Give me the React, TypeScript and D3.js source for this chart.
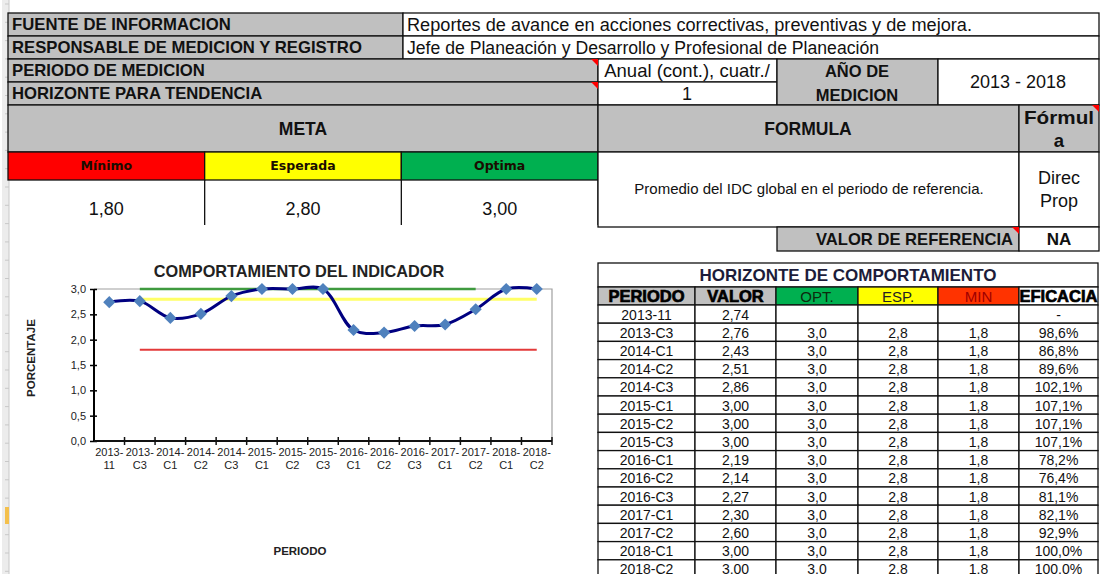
import * as d3 from 'd3';
import { useEffect, useRef } from 'react';

// periodos de medicion (cuatrimestres)
const periodos = [
  '2013-11', '2013-C3', '2014-C1', '2014-C2', '2014-C3', '2015-C1', '2015-C2', '2015-C3',
  '2016-C1', '2016-C2', '2016-C3', '2017-C1', '2017-C2', '2018-C1', '2018-C2',
];
const valores = [2.74, 2.76, 2.43, 2.51, 2.86, 3.0, 3.0, 3.0, 2.19, 2.14, 2.27, 2.3, 2.6, 3.0, 3.0];

// metas en la tabla
const optTabla = [null, 3.0, 3.0, 3.0, 3.0, 3.0, 3.0, 3.0, 3.0, 3.0, 3.0, 3.0, 3.0, 3.0, 3.0];
const espTabla = [null, 2.8, 2.8, 2.8, 2.8, 2.8, 2.8, 2.8, 2.8, 2.8, 2.8, 2.8, 2.8, 2.8, 2.8];
const minTabla = [null, 1.8, 1.8, 1.8, 1.8, 1.8, 1.8, 1.8, 1.8, 1.8, 1.8, 1.8, 1.8, 1.8, 1.8];
const eficacia = [null, 98.6, 86.8, 89.6, 102.1, 107.1, 107.1, 107.1, 78.2, 76.4, 81.1, 82.1, 92.9, 100.0, 100.0];

// lineas de meta en la grafica
const lineaOptima = [null, 3.0, 3.0, 3.0, 3.0, 3.0, 3.0, 3.0, 3.0, 3.0, 3.0, 3.0, 3.0, null, null];
const lineaEsperada = espTabla;
const lineaMinima = minTabla;

const yTicks = [0, 0.5, 1.0, 1.5, 2.0, 2.5, 3.0];

const metaNombres = ['Mínimo', 'Esperada', 'Optima'];
const metaValores = [1.8, 2.8, 3.0];

const FONT = "Arial, 'Liberation Sans', sans-serif";
const GRAY = '#c0c0c0';
const RED = '#ff0000';
const YELLOW = '#ffff00';
const GREEN = '#00b050';

const coma = (v: number | null, d: number) => (v == null ? '' : v.toFixed(d).replace('.', ','));

export default function App() {
  const ref = useRef<SVGSVGElement>(null);

  useEffect(() => {
    if (!ref.current) return;
    const svg = d3.select(ref.current);
    svg.selectAll('*').remove();

    // excel row header strip
    const strip = svg.append('g');
    strip.append('rect').attr('x', 2).attr('y', 0).attr('width', 7).attr('height', 574).attr('fill', '#ececec');
    strip.append('line').attr('x1', 9).attr('x2', 9).attr('y1', 0).attr('y2', 574).attr('stroke', '#c8c8c8');
    strip
      .selectAll('line.t')
      .data(d3.range(4, 574, 18.3))
      .join('line')
      .attr('x1', 5)
      .attr('x2', 9)
      .attr('y1', (d) => d)
      .attr('y2', (d) => d)
      .attr('stroke', '#c8c8c8');
    strip.append('rect').attr('x', 5).attr('y', 507).attr('width', 4).attr('height', 17).attr('fill', '#f4c04c');

    const cell = (x0: number, y0: number, x1: number, y1: number, fill: string) =>
      svg
        .append('rect')
        .attr('x', x0)
        .attr('y', y0)
        .attr('width', x1 - x0)
        .attr('height', y1 - y0)
        .attr('fill', fill)
        .attr('stroke', '#111')
        .attr('stroke-width', 1.3);

    const text = (
      t: string,
      x: number,
      y: number,
      opts: { size?: number; weight?: string | number; anchor?: string; color?: string; family?: string } = {},
    ) =>
      svg
        .append('text')
        .text(t)
        .attr('x', x)
        .attr('y', y)
        .attr('dy', '0.35em')
        .attr('font-family', opts.family ?? FONT)
        .attr('font-size', opts.size ?? 18)
        .attr('font-weight', opts.weight ?? 'normal')
        .attr('text-anchor', opts.anchor ?? 'start')
        .attr('fill', opts.color ?? '#111');

    const corner = (x: number, y: number) =>
      svg
        .append('path')
        .attr('d', `M${x - 7},${y}L${x},${y}L${x},${y + 7}Z`)
        .attr('fill', '#ff0000');

    // encabezado
    cell(8, 13, 403, 36, GRAY);
    cell(403, 13, 1099, 36, '#fff');
    cell(8, 36, 403, 59, GRAY);
    cell(403, 36, 1099, 59, '#fff');
    text('FUENTE DE INFORMACION', 12, 24.5, { weight: 'bold', size: 16.7 });
    text('Reportes de avance en acciones correctivas, preventivas y de mejora.', 407, 24.5, { size: 17.5 })
      .attr('textLength', 565)
      .attr('lengthAdjust', 'spacingAndGlyphs');
    text('RESPONSABLE DE MEDICION Y REGISTRO', 12, 47.5, { weight: 'bold', size: 16.7 });
    text('Jefe de Planeación y Desarrollo y Profesional de Planeación', 407, 47.5, { size: 17.5 })
      .attr('textLength', 472)
      .attr('lengthAdjust', 'spacingAndGlyphs');

    cell(8, 59, 598, 82, GRAY);
    cell(8, 82, 598, 105, GRAY);
    cell(598, 59, 777, 82, '#fff');
    cell(598, 82, 777, 105, '#fff');
    cell(777, 59, 938, 105, GRAY);
    cell(938, 59, 1099, 105, '#fff');
    text('PERIODO DE MEDICION', 12, 70.5, { weight: 'bold', size: 16.7 });
    text('HORIZONTE PARA TENDENCIA', 12, 93.5, { weight: 'bold', size: 16.7 });
    text('Anual (cont.), cuatr./', 687, 70.5, { anchor: 'middle', size: 18.5 });
    text('1', 687, 93.5, { anchor: 'middle' });
    text('AÑO DE', 857, 71, { anchor: 'middle', weight: 'bold', size: 16.5 });
    text('MEDICION', 857, 95, { anchor: 'middle', weight: 'bold', size: 16.5 });
    text('2013 - 2018', 1018, 82, { anchor: 'middle' });
    corner(598, 59);
    corner(598, 82);

    cell(8, 105, 598, 152, GRAY);
    cell(598, 105, 1019, 152, GRAY);
    cell(1019, 105, 1099, 152, GRAY);
    text('META', 303, 128.5, { anchor: 'middle', weight: 'bold', size: 17.5 });
    text('FORMULA', 808, 128.5, { anchor: 'middle', weight: 'bold', size: 17.5 });
    text('Fórmul', 1059, 118, { anchor: 'middle', weight: 'bold', size: 18.5 })
      .attr('textLength', 70)
      .attr('lengthAdjust', 'spacingAndGlyphs');
    text('a', 1059, 141, { anchor: 'middle', weight: 'bold', size: 18.5 });
    corner(1099, 105);

    // metas
    const metaX = d3.scaleBand<string>().domain(metaNombres).range([8, 598]);
    const metaColor = d3.scaleOrdinal<string, string>().domain(metaNombres).range([RED, YELLOW, GREEN]);
    metaNombres.forEach((m, i) => {
      const x0 = metaX(m) ?? 0;
      const x1 = x0 + metaX.bandwidth();
      cell(x0, 152, x1, 180, metaColor(m));
      text(m, (x0 + x1) / 2, 166, {
        anchor: 'middle',
        weight: 'bold',
        size: 12.5,
        family: "'DejaVu Sans', Verdana, sans-serif",
        color: '#1a0d00',
      });
      text(coma(metaValores[i], 2), (x0 + x1) / 2, 209, { anchor: 'middle' });
      svg
        .append('line')
        .attr('x1', x1)
        .attr('x2', x1)
        .attr('y1', 180)
        .attr('y2', 225)
        .attr('stroke', '#111')
        .attr('stroke-width', 1.3);
    });

    cell(598, 152, 1019, 227, '#fff');
    cell(1019, 152, 1099, 227, '#fff');
    text('Promedio del IDC global en el periodo de referencia.', 809, 189, { anchor: 'middle', size: 15 });
    text('Direc', 1059, 178, { anchor: 'middle' });
    text('Prop', 1059, 201, { anchor: 'middle' });

    cell(777, 227, 1019, 251, GRAY);
    cell(1019, 227, 1099, 251, '#fff');
    text('VALOR DE REFERENCIA', 1013, 239, { anchor: 'end', weight: 'bold', size: 16.6 });
    text('NA', 1059, 239.5, { anchor: 'middle', weight: 600, size: 17 });
    corner(1019, 227);

    // tabla horizonte de comportamiento
    cell(598, 263, 1098, 287, '#fff');
    text('HORIZONTE DE COMPORTAMIENTO', 848, 275.5, { anchor: 'middle', weight: 'bold', size: 17, color: '#1c1c3a' });

    const cols = ['PERIODO', 'VALOR', 'OPT.', 'ESP.', 'MIN', 'EFICACIA'];
    const colEdges = [598, 695, 776, 858, 938, 1019, 1098];
    const colFill = [GRAY, GRAY, GREEN, YELLOW, '#ff3300', '#fff'];
    const colInk = ['#000', '#000', '#0d2a0d', '#222', '#a00000', '#000'];
    const colHeavy = [true, true, false, false, false, true];
    cols.forEach((c, i) => {
      const x0 = colEdges[i];
      const x1 = colEdges[i + 1];
      cell(x0, 287, x1, 305, colFill[i]);
      text(c, (x0 + x1) / 2, 296.5, {
        anchor: 'middle',
        size: colHeavy[i] ? 16.5 : 15,
        weight: colHeavy[i] ? 900 : 'normal',
        color: colInk[i],
      })
        .attr('stroke', colHeavy[i] ? '#000' : 'none')
        .attr('stroke-width', 0.7);
    });

    const rowY = d3.scaleBand<string>().domain(periodos).range([305, 305 + 15 * 18.2]);
    periodos.forEach((p, i) => {
      const y0 = rowY(p) ?? 0;
      const y1 = y0 + rowY.bandwidth();
      const ym = (y0 + y1) / 2 + 0.5;
      const vals = [
        p,
        coma(valores[i], 2),
        coma(optTabla[i], 1),
        coma(espTabla[i], 1),
        coma(minTabla[i], 1),
        eficacia[i] == null ? '-' : coma(eficacia[i], 1) + '%',
      ];
      vals.forEach((v, j) => {
        const x0 = colEdges[j];
        const x1 = colEdges[j + 1];
        cell(x0, y0, x1, y1, '#fff');
        text(v, (x0 + x1) / 2, ym, { anchor: 'middle', size: 14 });
      });
    });

    // grafica
    const x = d3.scaleBand<string>().domain(periodos).range([94, 552]);
    const y = d3.scaleLinear().domain([0, 3]).range([441, 289]);
    const cx = (p: string) => (x(p) ?? 0) + x.bandwidth() / 2;

    const chart = svg.append('g');
    chart
      .append('path')
      .attr('d', `M${x.range()[0]},${y(3)}H${x.range()[1]}V${y(0)}`)
      .attr('fill', 'none')
      .attr('stroke', '#a0a0a0')
      .attr('stroke-width', 1.2);

    const yAxis = d3
      .axisLeft(y)
      .tickValues(yTicks)
      .tickSize(3)
      .tickPadding(5)
      .tickFormat((d) => coma(d as number, 1));
    const gy = chart.append('g').attr('transform', `translate(${x.range()[0]},0)`).call(yAxis);
    gy.selectAll('.tick line').attr('x1', -4).attr('x2', 3).attr('stroke-width', 1.5);
    gy.select('.domain').attr('stroke-width', 2).attr('d', `M0,${y(3)}V${y(0)}`);
    gy.selectAll('text').attr('font-family', FONT).attr('font-size', 11).attr('fill', '#222');

    const gx = chart.append('g').attr('transform', `translate(0,${y(0)})`);
    gx.append('line')
      .attr('x1', x.range()[0])
      .attr('x2', x.range()[1])
      .attr('stroke', '#111')
      .attr('stroke-width', 2);
    gx.selectAll('line.tk')
      .data(periodos)
      .join('line')
      .attr('x1', (d) => (x(d) ?? 0) + x.bandwidth())
      .attr('x2', (d) => (x(d) ?? 0) + x.bandwidth())
      .attr('y1', -4)
      .attr('y2', 4)
      .attr('stroke', '#111')
      .attr('stroke-width', 1.5);
    const lbl = gx
      .selectAll('text.lb')
      .data(periodos)
      .join('text')
      .attr('x', cx)
      .attr('y', 14.5)
      .attr('text-anchor', 'middle')
      .attr('font-family', FONT)
      .attr('font-size', 11)
      .attr('fill', '#222');
    lbl.append('tspan').attr('x', cx).text((d) => d.split('-')[0] + '-');
    lbl.append('tspan').attr('x', cx).attr('dy', 13.5).text((d) => d.split('-')[1]);

    const refLine = d3
      .line<number | null>()
      .defined((d) => d != null)
      .x((_, i) => cx(periodos[i]))
      .y((d) => y(d as number));
    chart.append('path').attr('d', refLine(lineaEsperada)).attr('fill', 'none').attr('stroke', '#ffff66').attr('stroke-width', 3);
    chart.append('path').attr('d', refLine(lineaMinima)).attr('fill', 'none').attr('stroke', '#e33a3a').attr('stroke-width', 2);
    chart.append('path').attr('d', refLine(lineaOptima)).attr('fill', 'none').attr('stroke', '#3f9a3f').attr('stroke-width', 2.5);

    const valLine = d3
      .line<number>()
      .x((_, i) => cx(periodos[i]))
      .y((d) => y(d))
      .curve(d3.curveCatmullRom.alpha(0.5));
    chart.append('path').attr('d', valLine(valores)).attr('fill', 'none').attr('stroke', '#000080').attr('stroke-width', 3);

    chart
      .selectAll('path.mk')
      .data(valores)
      .join('path')
      .attr('d', d3.symbol(d3.symbolSquare, 74)())
      .attr('transform', (d, i) => `translate(${cx(periodos[i])},${y(d)}) rotate(45)`)
      .attr('fill', '#4f81bd');

    chart
      .append('text')
      .text('COMPORTAMIENTO DEL INDICADOR')
      .attr('x', 299)
      .attr('y', 271)
      .attr('dy', '0.35em')
      .attr('text-anchor', 'middle')
      .attr('font-family', FONT)
      .attr('font-weight', 'bold')
      .attr('font-size', 16.3)
      .attr('fill', '#222');
    chart
      .append('text')
      .text('PORCENTAJE')
      .attr('transform', 'translate(31,358) rotate(-90)')
      .attr('dy', '0.35em')
      .attr('text-anchor', 'middle')
      .attr('font-family', FONT)
      .attr('font-weight', 'bold')
      .attr('font-size', 11.5)
      .attr('fill', '#222');
    chart
      .append('text')
      .text('PERIODO')
      .attr('x', 300)
      .attr('y', 551)
      .attr('dy', '0.35em')
      .attr('text-anchor', 'middle')
      .attr('font-family', FONT)
      .attr('font-weight', 'bold')
      .attr('font-size', 11.5)
      .attr('fill', '#222');
  }, []);

  return (
    <svg
      ref={ref}
      width={1104}
      height={574}
      style={{ position: 'absolute', left: 0, top: 0, background: '#fff' }}
    />
  );
}
